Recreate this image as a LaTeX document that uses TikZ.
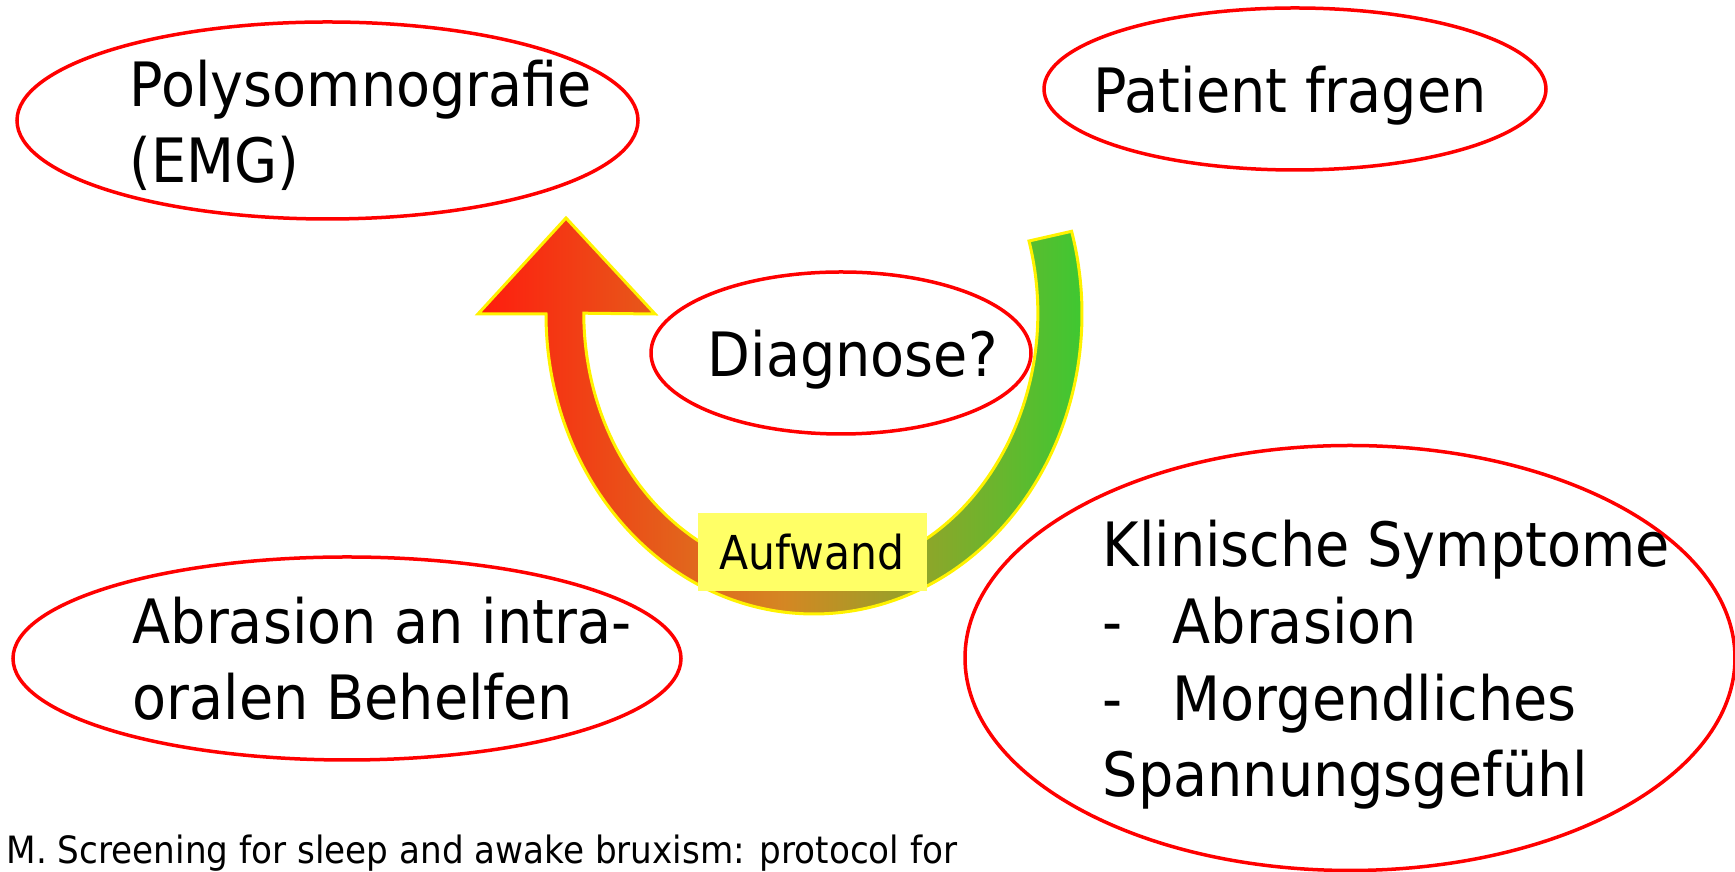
\documentclass[tikz,border=0pt]{standalone}
\usepackage{fontspec}
\setmainfont{DejaVu Sans}[FakeStretch=0.91]
\usetikzlibrary{shapes.geometric}
\definecolor{ringred}{RGB}{255,0,0}
\definecolor{arrowred}{RGB}{255,28,14}
\definecolor{arrowochre}{RGB}{212,135,35}
\definecolor{arrowgreen}{RGB}{58,202,50}
\definecolor{boxyellow}{RGB}{255,255,102}
\tikzset{
  blob/.style={ellipse, draw=ringred, line width=0.35mm, inner sep=0pt},
  bigtext/.style={font=\fontsize{17.4}{21.9}\selectfont, align=left, inner sep=0pt, anchor=base west}
}

\begin{document}
\begin{tikzpicture}[x=0.1mm,y=-0.1mm]
\useasboundingbox (0,0) rectangle (1735,872);

\draw[line width=0.3mm, draw=yellow, left color=arrowred, right color=arrowgreen, middle color=arrowochre] (546,314) arc[start angle=180, end angle=376, x radius=26.8mm, y radius=30mm] -- (1029,241) arc[start angle=16, end angle=-180, x radius=22.7mm, y radius=26.2mm] -- (655,314) -- (566,218) -- (478,314) -- cycle;

\node[blob, minimum width=62.1mm, minimum height=19.7mm] (poly) at (327.5,120.5) {};
\node[blob, minimum width=50.2mm, minimum height=16.2mm] (patient) at (1295,89) {};
\node[blob, minimum width=38mm, minimum height=16.2mm] (diag) at (841,353) {};
\node[blob, minimum width=66.8mm, minimum height=20.3mm] (abrasion) at (347,658.5) {};
\node[blob, minimum width=77mm, minimum height=42.5mm] (clinic) at (1350,658) {};

\node[bigtext] (polytext) at (129,183) {Polysomnografie\\(EMG)};
\node[bigtext] (patienttext) at (1093,113) {Patient fragen};
\node[bigtext] (diagtext) at (707,377) {Diagnose?};
\node[bigtext] (abrasiontext) at (132,720) {Abrasion an intra-\\oralen Behelfen};
\node[bigtext] (clinictext) at (1102,797) {Klinische Symptome\\\makebox[7mm][l]{-}Abrasion\\\makebox[7mm][l]{-}Morgendliches\\Spannungsgefühl};

\node[fill=boxyellow, minimum width=22.9mm, minimum height=7.8mm, inner sep=0pt, font=\fontsize{13.3}{16}\selectfont] (effort) at (812,552) {Aufwand};

\node[font=\fontsize{10.7}{12}\selectfont, inner sep=0pt, anchor=base west] (source) at (6,864) {M. Screening for sleep and awake bruxism: protocol for};

\end{tikzpicture}
\end{document}
